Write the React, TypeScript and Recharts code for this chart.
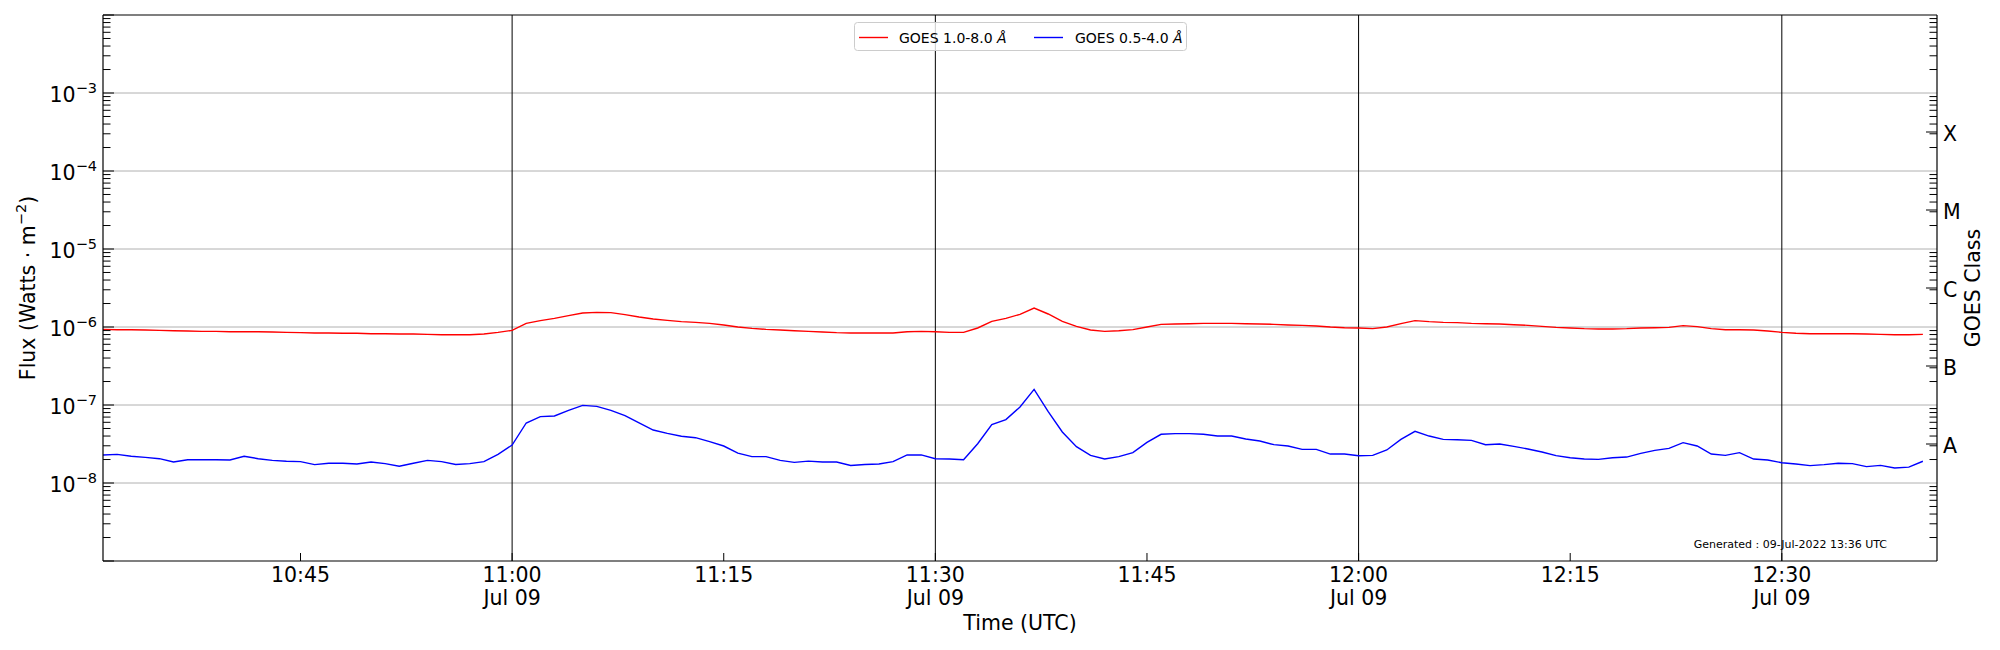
import React from 'react';
import { LineChart, Line, XAxis, YAxis, ReferenceLine } from 'recharts';

// GOES XRS 1-minute fluxes, 2022-07-09, starting 10:31 UTC (W/m^2)
const START_MIN = 10 * 60 + 31;
const END_MIN = 12 * 60 + 41;

const xrsb = [
  9.33e-7, 9.24e-7, 9.24e-7, 9.15e-7, 9.06e-7, 8.97e-7, 8.89e-7, 8.8e-7, 8.8e-7, 8.71e-7,
  8.71e-7, 8.71e-7, 8.63e-7, 8.54e-7, 8.46e-7, 8.38e-7, 8.38e-7, 8.3e-7, 8.3e-7, 8.21e-7,
  8.21e-7, 8.13e-7, 8.13e-7, 8.05e-7, 7.97e-7, 7.97e-7, 7.97e-7, 8.13e-7, 8.54e-7, 9.06e-7,
  1.114e-6,
  1.206e-6, 1.291e-6, 1.397e-6, 1.512e-6, 1.541e-6, 1.527e-6, 1.439e-6, 1.343e-6, 1.266e-6, 1.217e-6,
  1.171e-6, 1.148e-6, 1.114e-6, 1.061e-6, 1.0e-6, 9.61e-7, 9.33e-7, 9.15e-7, 8.97e-7, 8.8e-7,
  8.63e-7, 8.46e-7, 8.38e-7, 8.38e-7, 8.38e-7, 8.38e-7, 8.71e-7, 8.8e-7, 8.71e-7, 8.54e-7,
  8.54e-7, 9.71e-7,
  1.182e-6, 1.291e-6, 1.454e-6, 1.752e-6, 1.468e-6, 1.182e-6, 1.02e-6, 9.15e-7, 8.8e-7, 8.97e-7,
  9.24e-7, 1.0e-6, 1.082e-6, 1.093e-6, 1.103e-6, 1.114e-6, 1.114e-6, 1.114e-6, 1.103e-6, 1.093e-6,
  1.082e-6, 1.061e-6, 1.05e-6, 1.03e-6, 1.0e-6, 9.8e-7, 9.71e-7, 9.52e-7, 1.0e-6, 1.103e-6,
  1.206e-6,
  1.171e-6, 1.148e-6, 1.137e-6, 1.114e-6, 1.103e-6, 1.093e-6, 1.071e-6, 1.05e-6, 1.02e-6, 9.9e-7,
  9.71e-7, 9.52e-7, 9.43e-7, 9.43e-7, 9.52e-7, 9.71e-7, 9.8e-7, 9.9e-7, 1.04e-6, 1.01e-6,
  9.52e-7, 9.24e-7, 9.24e-7, 9.15e-7, 8.89e-7, 8.54e-7, 8.3e-7, 8.21e-7, 8.21e-7, 8.21e-7,
  8.21e-7, 8.13e-7, 8.05e-7, 7.97e-7, 7.97e-7, 8.05e-7,
];

const xrsa = [
  2.29e-8, 2.33e-8, 2.2e-8, 2.13e-8, 2.05e-8, 1.86e-8, 1.99e-8, 1.99e-8, 1.99e-8, 1.97e-8,
  2.2e-8, 2.05e-8, 1.95e-8, 1.9e-8, 1.88e-8, 1.72e-8, 1.79e-8, 1.79e-8, 1.75e-8, 1.86e-8,
  1.77e-8, 1.64e-8, 1.79e-8, 1.95e-8, 1.88e-8, 1.73e-8, 1.77e-8, 1.88e-8, 2.33e-8, 3.07e-8,
  5.88e-8, 7.09e-8, 7.23e-8,
  8.54e-8, 9.9e-8, 9.61e-8, 8.54e-8, 7.3e-8, 5.88e-8, 4.78e-8, 4.33e-8, 3.97e-8, 3.81e-8,
  3.39e-8, 2.98e-8, 2.42e-8, 2.18e-8, 2.18e-8, 1.95e-8, 1.84e-8, 1.91e-8, 1.86e-8, 1.86e-8,
  1.68e-8, 1.73e-8, 1.75e-8, 1.88e-8, 2.29e-8, 2.29e-8, 2.05e-8, 2.03e-8, 1.99e-8, 3.19e-8,
  5.6e-8, 6.49e-8, 9.43e-8, 1.588e-7, 8.21e-8, 4.51e-8, 2.92e-8, 2.26e-8, 2.03e-8, 2.18e-8,
  2.45e-8, 3.32e-8, 4.21e-8, 4.29e-8, 4.29e-8, 4.21e-8, 4.0e-8, 4.0e-8, 3.66e-8, 3.45e-8,
  3.1e-8, 2.98e-8, 2.7e-8, 2.7e-8, 2.35e-8, 2.35e-8, 2.24e-8, 2.26e-8, 2.65e-8, 3.63e-8,
  4.6e-8,
  4.0e-8, 3.63e-8, 3.59e-8, 3.52e-8, 3.1e-8, 3.16e-8, 2.95e-8, 2.73e-8, 2.5e-8, 2.24e-8,
  2.11e-8, 2.03e-8, 2.01e-8, 2.11e-8, 2.15e-8, 2.4e-8, 2.62e-8, 2.78e-8, 3.29e-8, 2.98e-8,
  2.35e-8, 2.26e-8, 2.45e-8, 2.03e-8, 1.97e-8, 1.82e-8, 1.75e-8, 1.67e-8, 1.72e-8, 1.79e-8,
  1.77e-8, 1.62e-8, 1.68e-8, 1.56e-8, 1.6e-8, 1.9e-8,
];

const timeTicks = [645, 660, 675, 690, 705, 720, 735, 750];
const dayLines = [660, 690, 720, 750];
const labelledExps = [-3, -4, -5, -6, -7, -8];
const goesClasses = [
  { label: 'A', exp: -7.5 },
  { label: 'B', exp: -6.5 },
  { label: 'C', exp: -5.5 },
  { label: 'M', exp: -4.5 },
  { label: 'X', exp: -3.5 },
];

const FONT = '"DejaVu Sans", sans-serif';

const rows = xrsb.map((v, i) => ({ t: START_MIN + i, xrsb: v, xrsa: xrsa[i] }));

const minorTicks: number[] = [];
for (let n = -9; n <= -3; n++) {
  for (let k = 2; k <= 9; k++) minorTicks.push(k * Math.pow(10, n));
}
const decadeTicks: number[] = [];
for (let n = -9; n <= -2; n++) decadeTicks.push(Math.pow(10, n));
const leftTicks = [...decadeTicks, ...minorTicks];
const classTicks = goesClasses.map((c) => Math.pow(10, c.exp));
const rightTicks = [...classTicks, ...minorTicks];

function isDecade(v: number) {
  const l = Math.log10(v);
  return Math.abs(l - Math.round(l)) < 1e-6;
}

function LeftTick({ x, y, payload }: any) {
  const v = payload.value;
  const major = isDecade(v);
  const exp = Math.round(Math.log10(v));
  return (
    <g>
      <line x1={x} x2={x + (major ? 11 : 7.5)} y1={y} y2={y} stroke="#000" strokeWidth={1} />
      {major && labelledExps.includes(exp) && (
        <text x={x - 6} y={y + 9} textAnchor="end" fontSize={20.5} fontFamily={FONT} fill="#000">
          10
          <tspan dy={-9} fontSize={14.5}>
            {'\u2212' + -exp}
          </tspan>
        </text>
      )}
    </g>
  );
}

function RightTick({ x, y, payload }: any) {
  const v = payload.value;
  const cls = goesClasses.find((c) => Math.abs(Math.log10(v) - c.exp) < 1e-6);
  return (
    <g>
      <line x1={x} x2={x - (cls ? 11 : 7.5)} y1={y} y2={y} stroke="#000" strokeWidth={1} />
      {cls && (
        <text x={x + 6} y={y + 9} textAnchor="start" fontSize={20.5} fontFamily={FONT} fill="#000">
          {cls.label}
        </text>
      )}
    </g>
  );
}

function TimeTick({ x, y, payload }: any) {
  const m = payload.value;
  const hh = Math.floor(m / 60);
  const mm = m % 60;
  const label = `${hh}:${String(mm).padStart(2, '0')}`;
  return (
    <g>
      <line x1={x} x2={x} y1={y} y2={y - 8} stroke="#000" strokeWidth={1} />
      <text x={x} y={y + 21} textAnchor="middle" fontSize={20.5} fontFamily={FONT} fill="#000">
        {label}
      </text>
      {mm % 30 === 0 && (
        <text x={x} y={y + 44} textAnchor="middle" fontSize={20.5} fontFamily={FONT} fill="#000">
          Jul 09
        </text>
      )}
    </g>
  );
}

export default function App() {
  return (
    <div
      style={{
        position: 'absolute',
        left: 0,
        top: 0,
        width: 2000,
        height: 650,
        background: '#fff',
        fontFamily: FONT,
      }}
    >
      <LineChart width={2000} height={650} data={rows} margin={{ top: 15, right: 0, bottom: 0, left: 0 }}>
        <XAxis
          dataKey="t"
          type="number"
          domain={[START_MIN, END_MIN]}
          allowDataOverflow
          ticks={timeTicks}
          interval={0}
          height={89}
          tickSize={0}
          tickMargin={0}
          tickLine={false}
          axisLine={{ stroke: '#000', strokeWidth: 1.2 }}
          tick={<TimeTick />}
        />
        <YAxis
          yAxisId={0}
          type="number"
          scale="log"
          domain={[1e-9, 1e-2]}
          allowDataOverflow
          ticks={leftTicks}
          interval={0}
          width={103}
          tickSize={0}
          tickMargin={0}
          tickLine={false}
          axisLine={{ stroke: '#000', strokeWidth: 1.2 }}
          tick={<LeftTick />}
        />
        <YAxis
          yAxisId="right"
          orientation="right"
          type="number"
          scale="log"
          domain={[1e-9, 1e-2]}
          allowDataOverflow
          ticks={rightTicks}
          interval={0}
          width={63}
          tickSize={0}
          tickMargin={0}
          tickLine={false}
          axisLine={{ stroke: '#000', strokeWidth: 1.2 }}
          tick={<RightTick />}
        />
        {labelledExps.map((e) => (
          <ReferenceLine key={e} y={Math.pow(10, e)} stroke="#b0b0b0" strokeWidth={1} />
        ))}
        {dayLines.map((t) => (
          <ReferenceLine key={t} x={t} stroke="#000" strokeWidth={1} />
        ))}
        <ReferenceLine y={1e-2} stroke="#000" strokeWidth={1.2} />
        <Line
          type="linear"
          dataKey="xrsb"
          stroke="#ff0000"
          strokeWidth={1.4}
          dot={false}
          isAnimationActive={false}
        />
        <Line
          type="linear"
          dataKey="xrsa"
          stroke="#0000ff"
          strokeWidth={1.4}
          dot={false}
          isAnimationActive={false}
        />
      </LineChart>

      <svg
        width={2000}
        height={650}
        style={{ position: 'absolute', left: 0, top: 0, pointerEvents: 'none' }}
        fontFamily={FONT}
      >
        {/* legend */}
        <rect x={854.5} y={22.5} width={332} height={28} rx={3} fill="#fff" fillOpacity={0.8} stroke="#cccccc" />
        <line x1={859} x2={888} y1={37.5} y2={37.5} stroke="#ff0000" strokeWidth={1.4} />
        <text x={899} y={43} fontSize={14} fill="#000">
          GOES 1.0-8.0 <tspan fontStyle="italic">Å</tspan>
        </text>
        <line x1={1034} x2={1063} y1={37.5} y2={37.5} stroke="#0000ff" strokeWidth={1.4} />
        <text x={1075} y={43} fontSize={14} fill="#000">
          GOES 0.5-4.0 <tspan fontStyle="italic">Å</tspan>
        </text>

        <text x={1887} y={547.5} fontSize={11} textAnchor="end" fill="#000">
          Generated : 09-Jul-2022 13:36 UTC
        </text>

        <text x={1020} y={630} fontSize={20.5} textAnchor="middle" fill="#000">
          Time (UTC)
        </text>
        <text transform="translate(35,288) rotate(-90)" fontSize={20.5} textAnchor="middle" fill="#000">
          Flux (Watts · m<tspan dy={-9} fontSize={14.5}>{'\u22122'}</tspan>
          <tspan dy={9}>)</tspan>
        </text>
        <text transform="translate(1980,288) rotate(-90)" fontSize={20.5} textAnchor="middle" fill="#000">
          GOES Class
        </text>
      </svg>
    </div>
  );
}
